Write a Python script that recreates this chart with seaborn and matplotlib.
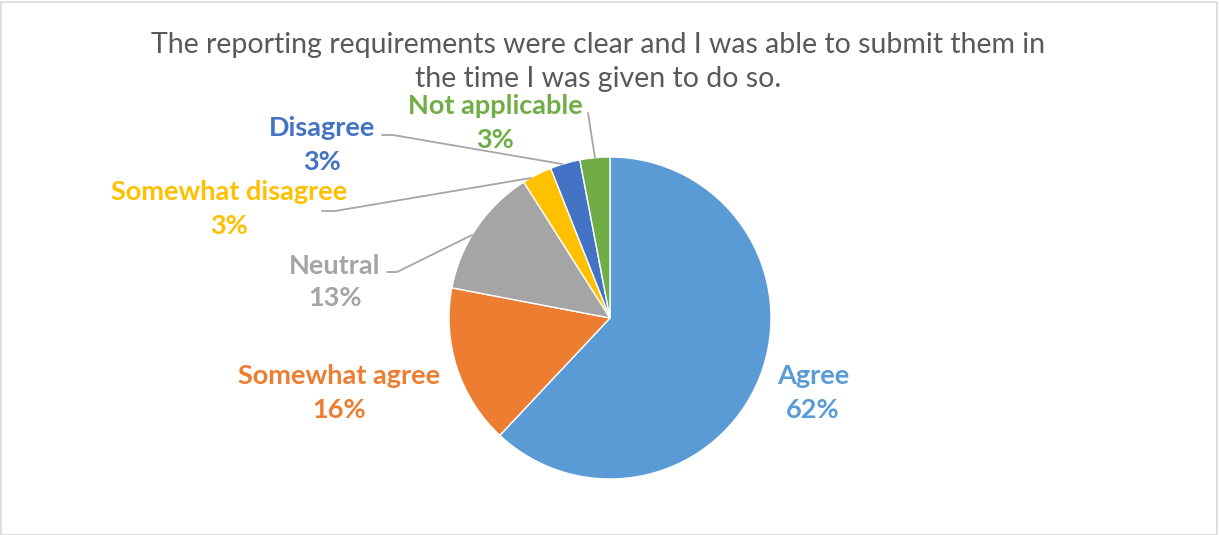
import matplotlib
matplotlib.use("Agg")
import matplotlib.pyplot as plt
import seaborn as sns
from matplotlib.patches import Rectangle

categories = ["Agree", "Somewhat agree", "Neutral", "Somewhat disagree", "Disagree", "Not applicable"]
values = [62, 16, 13, 3, 3, 3]
pct_labels = ["62%", "16%", "13%", "3%", "3%", "3%"]
colors = ["#5B9BD5", "#ED7D31", "#A5A5A5", "#FFC000", "#4472C4", "#70AD47"]
title = "The reporting requirements were clear and I was able to submit them in\nthe time I was given to do so."

sns.set_theme(style="white")
plt.rcParams['font.family'] = ['Lato', 'DejaVu Sans']

W, H = 1219, 535
fig = plt.figure(figsize=(W / 100, H / 100), dpi=100)
ax = fig.add_axes([0, 0, 1, 1])

def Y(y):
    return H - y

ax.pie(values, colors=colors, startangle=90, counterclock=False,
       center=(610, Y(318)), radius=161,
       wedgeprops=dict(linewidth=1.0, edgecolor="white"))

# label positions (pixels from top-left)
label_pos = [(813, 393), (339, 393), (335, 282), (229, 209), (322, 145), (495, 123)]
for (x, y), cat, pct, c in zip(label_pos, categories, pct_labels, colors):
    ax.text(x, Y(y), f"{cat}\n{pct}", ha="center", va="center", color=c,
            fontsize=19.5, fontweight="bold", linespacing=1.45)

leaders = [
    [(387, 272), (397, 272), (472, 235)],
    [(322, 211), (335, 211), (531, 178)],
    [(382, 135), (393, 135), (562, 164)],
    [(588, 113), (595, 158)],
]
for pts in leaders:
    ax.plot([p[0] for p in pts], [Y(p[1]) for p in pts], color="#A6A6A6", lw=1.3)

ax.text(598, Y(62), title, ha="center", va="center", color="#595959",
        fontsize=20.5, linespacing=1.38)

ax.set_xlim(0, W)
ax.set_ylim(0, H)
ax.set_aspect("equal")
ax.axis("off")

fig.patches.append(Rectangle((1 / W, 0), 1 - 3 / W, 1 - 1.5 / H, transform=fig.transFigure,
                             fill=False, edgecolor="#D9D9D9", lw=1.2))

fig.savefig("out.png", dpi=100, facecolor="white")
